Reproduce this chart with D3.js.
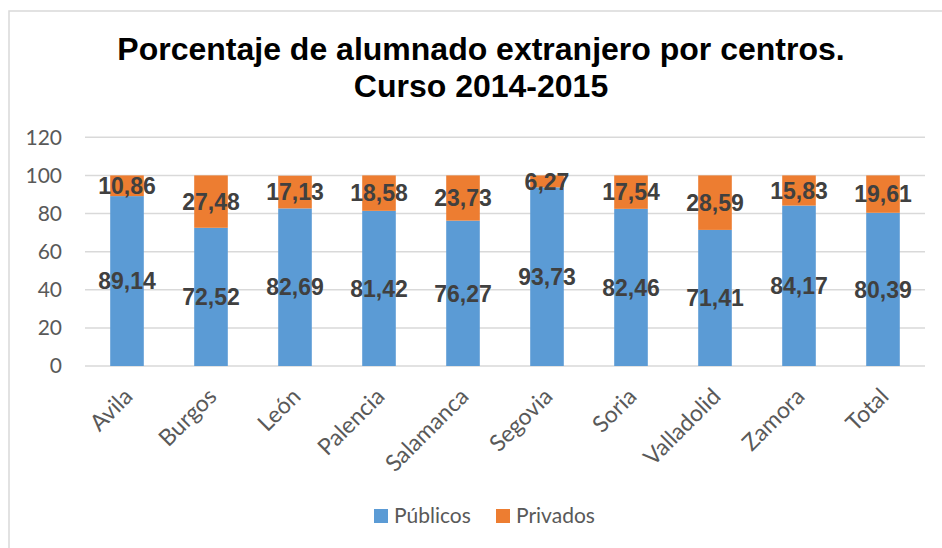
<!DOCTYPE html>
<html>
<head>
<meta charset="utf-8">
<script src="https://cdn.jsdelivr.net/npm/d3@7/dist/d3.min.js"></script>
<style>
  html, body { margin: 0; padding: 0; background: #fff; }
  svg { display: block; }
</style>
</head>
<body>
<svg id="chart" width="942" height="548"></svg>
<script>
// Provincias de Castilla y León más el total
const categories = ["Avila", "Burgos", "León", "Palencia", "Salamanca", "Segovia", "Soria", "Valladolid", "Zamora", "Total"];
const publicos = [89.14, 72.52, 82.69, 81.42, 76.27, 93.73, 82.46, 71.41, 84.17, 80.39];
const privados = [10.86, 27.48, 17.13, 18.58, 23.73, 6.27, 17.54, 28.59, 15.83, 19.61];
const seriesNames = ["Públicos", "Privados"];
const yTicks = [0, 20, 40, 60, 80, 100, 120];
const titleLines = ["Porcentaje de alumnado extranjero por centros.", "Curso 2014-2015"];

const colors = { "Públicos": "#5b9bd5", "Privados": "#ed7d31" };
const labelFont = "Lato, 'Open Sans', sans-serif";
const boldFont = "'Liberation Sans', Arial, sans-serif";

const svg = d3.select("#chart");

// Marco del gráfico
svg.append("rect")
  .attr("x", 9).attr("y", 11)
  .attr("width", 1200).attr("height", 1200)
  .attr("fill", "#fff")
  .attr("stroke", "#d9d9d9").attr("stroke-width", 1.5);

// Título
const title = svg.append("text")
  .attr("text-anchor", "middle")
  .attr("font-family", boldFont)
  .attr("font-weight", "bold")
  .attr("font-size", 32)
  .attr("fill", "#000");
titleLines.forEach((line, i) => {
  title.append("tspan")
    .attr("x", 481)
    .attr("y", 60 + i * 37)
    .text(line);
});

// Escalas
const x = d3.scaleBand().domain(categories).range([85, 925]).paddingInner(0.6).paddingOuter(0.3);
const y = d3.scaleLinear().domain([0, 120]).range([366, 137.3]);

// Líneas de división horizontales
svg.append("g")
  .selectAll("line")
  .data(yTicks)
  .join("line")
  .attr("x1", 85).attr("x2", 925)
  .attr("y1", d => y(d)).attr("y2", d => y(d))
  .attr("stroke", "#d9d9d9").attr("stroke-width", 1.5);

// Eje Y
const yAxis = svg.append("g")
  .attr("transform", "translate(85,0)")
  .call(d3.axisLeft(y).tickValues(yTicks).tickSize(0).tickPadding(23));
yAxis.select(".domain").remove();
yAxis.selectAll("text")
  .attr("font-family", labelFont)
  .attr("font-size", 21)
  .attr("fill", "#595959");

// Datos apilados
const rows = categories.map((c, i) => ({ cat: c, "Públicos": publicos[i], "Privados": privados[i] }));
const stack = d3.stack().keys(seriesNames)(rows);

const layers = svg.append("g")
  .selectAll("g")
  .data(stack)
  .join("g")
  .attr("fill", d => colors[d.key]);

layers.selectAll("rect")
  .data(d => d)
  .join("rect")
  .attr("x", d => x(d.data.cat))
  .attr("width", x.bandwidth())
  .attr("y", d => y(d[1]))
  .attr("height", d => y(d[0]) - y(d[1]));

// Etiquetas de valores
const fmt = v => d3.format(".2f")(v).replace(".", ",");
const labelsG = svg.append("g");
stack.forEach(layer => {
  labelsG.selectAll(null)
    .data(layer)
    .join("text")
    .attr("x", d => x(d.data.cat) + x.bandwidth() / 2)
    .attr("y", d => y((d[0] + d[1]) / 2))
    .attr("dy", "0.36em")
    .attr("text-anchor", "middle")
    .attr("font-family", boldFont)
    .attr("font-weight", "bold")
    .attr("font-size", 23)
    .attr("fill", "#404040")
    .text(d => fmt(d[1] - d[0]));
});

// Eje X con etiquetas giradas
const xAxis = svg.append("g")
  .attr("transform", "translate(0,366)")
  .call(d3.axisBottom(x).tickSize(0).tickPadding(0));
xAxis.select(".domain").remove();
xAxis.selectAll("text")
  .attr("font-family", labelFont)
  .attr("font-size", 23)
  .attr("fill", "#595959")
  .attr("text-anchor", "end")
  .attr("dy", null)
  .attr("y", 0)
  .attr("transform", "translate(7,32) rotate(-45)");

// Leyenda
const legend = svg.append("g").attr("transform", "translate(374,509)");
const legendItems = legend.selectAll("g")
  .data(seriesNames)
  .join("g")
  .attr("transform", (d, i) => `translate(${i * 122},0)`);
legendItems.append("rect")
  .attr("width", 14).attr("height", 14)
  .attr("fill", d => colors[d]);
legendItems.append("text")
  .attr("x", 20).attr("y", 14)
  .attr("font-family", labelFont)
  .attr("font-size", 21)
  .attr("fill", "#595959")
  .text(d => d);
</script>
</body>
</html>
